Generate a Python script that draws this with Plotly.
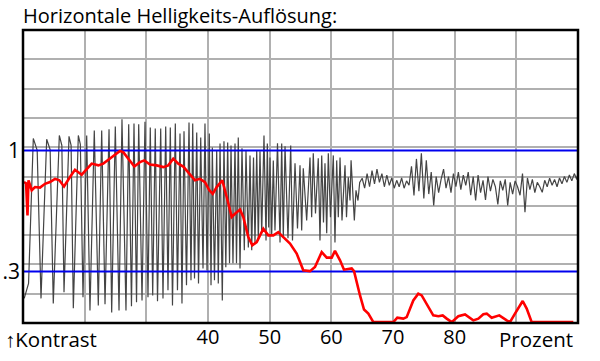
import plotly.graph_objects as go

# ---------------- data (x in percent, y in signal level 0-100) ----------------
title_text = "Horizontale Helligkeits-Auflösung:"
x_tick_vals = [40, 50, 60, 70, 80]
x_tick_text = ["40", "50", "60", "70", "80"]
y_tick_vals = [58.9, 17.6]
y_tick_text = ["1", ".3"]
ref_levels = [58.9, 17.6]

# gray measured signal: sweep region (alternating extrema)
gray_x = [10.2, 10.9, 11.67, 12.3, 12.92, 13.84, 14.4, 14.91, 15.89, 16.3, 16.65, 17.46, 17.8,
          18.16, 18.97, 19.3, 19.73, 20.33, 20.86, 21.56, 22.21, 22.76, 23.3, 23.95, 24.38,
          24.97, 25.57, 26.05, 26.7, 27.14, 27.59, 28.0, 28.41, 28.76, 29.3, 29.78, 30.27,
          30.64, 31.03, 31.45, 31.81, 32.33, 32.7, 33.14, 33.51, 33.89, 34.24, 34.7, 35.05,
          35.46, 35.78, 36.11, 36.51, 36.92, 37.24, 37.52, 37.81, 38.17, 38.46, 38.82, 39.19,
          39.51, 39.84, 40.21, 40.49, 40.7, 41.05, 41.41,
          41.67, 41.95, 42.32, 42.59, 42.89, 43.19, 43.49, 43.73, 44.05, 44.38, 44.62, 44.91,
          45.19, 45.51, 45.89, 46.16, 46.54, 46.81, 47.09, 47.38, 47.62, 47.9, 48.16, 48.43,
          48.71, 49.08, 49.41, 49.62, 49.84, 50.05, 50.33, 50.59, 50.86, 51.27, 51.68, 51.95,
          52.21, 52.49, 52.97, 53.41, 53.7, 54.11, 54.51, 54.92, 55.19, 55.45, 56.0, 56.54,
          56.81, 57.07, 57.43, 57.88, 58.16, 58.44, 58.73, 58.97, 59.25, 59.51, 59.86, 60.32,
          60.59, 60.87, 61.13, 61.41, 61.73, 62.22, 62.46, 62.75, 63.03, 63.2, 63.73, 64.0,
          64.32, 64.6]
gray_y = [8.4, 13.5, 63.0, 58.9, 8.4, 62.7, 59.2, 6.7, 64.0, 60.6, 10.5, 63.7, 60.6,
          5.0, 64.0, 61.0, 8.8, 64.0, 4.3, 65.7, 6.0, 65.7, 6.4, 66.1, 3.6,
          67.1, 4.3, 69.5, 4.3, 67.8, 5.7, 68.1, 7.1, 67.8, 7.7, 68.7, 8.8,
          66.7, 9.4, 66.4, 7.4, 66.4, 8.4, 67.1, 11.2, 66.7, 6.0, 68.1, 11.2,
          64.7, 6.7, 65.4, 12.9, 68.4, 14.6, 68.1, 15.2, 65.0, 13.5, 63.3, 18.6,
          68.1, 17.9, 64.7, 12.9, 59.9, 14.6, 58.9,
          13.5, 61.3, 7.7, 62.0, 19.0, 61.6, 20.4, 60.6, 20.4, 61.3, 20.4, 63.3,
          18.6, 59.6, 24.8, 58.9, 25.8, 57.2, 24.8, 56.5, 27.2, 58.9, 28.2, 58.6,
          30.6, 64.0, 28.2, 61.3, 32.6, 56.5, 29.9, 55.5, 31.6, 61.3, 27.5, 61.3,
          29.2, 60.3, 28.9, 60.6, 28.2, 54.5, 32.3, 53.8, 31.6, 52.8, 35.0, 56.5,
          36.1, 57.9, 37.4, 56.2, 28.2, 57.2, 34.3, 54.5, 30.6, 57.9, 36.1, 57.2,
          27.5, 55.5, 36.1, 56.5, 35.0, 53.8, 36.1, 49.7, 41.8, 55.5, 35.0, 45.3,
          41.8, 48.0]

# gray measured signal: noise region beyond resolution limit
noise_x = [65.0, 65.4, 65.8, 66.2, 66.6, 67.0, 67.4, 67.8, 68.2, 68.6, 69.0, 69.4, 69.8,
           70.2, 70.6, 71.0, 71.4, 71.8, 72.2, 72.6, 73.0, 73.4, 73.8, 74.2, 74.6, 75.0,
           75.4, 75.8, 76.2, 76.6, 77.0, 77.4, 77.8, 78.2, 78.6, 79.0, 79.4, 79.8, 80.2,
           80.6, 81.0, 81.4, 81.8, 82.2, 82.6, 83.0, 83.4, 83.8, 84.2, 84.6, 85.0, 85.4,
           85.8, 86.2, 86.6, 87.0, 87.4, 87.8, 88.2, 88.6, 89.0, 89.4, 89.8, 90.2, 90.6,
           91.0, 91.4, 91.8, 92.2, 92.6, 93.0, 93.4, 93.8, 94.2, 94.6, 95.0, 95.4, 95.8,
           96.2, 96.6, 97.0, 97.4, 97.8, 98.2, 98.6, 99.0, 99.4, 99.8, 100.0]
noise_y = [49.4, 46.0, 51.0, 46.5, 52.0, 47.5, 52.5, 48.0, 51.0, 46.5, 50.5, 47.0, 49.5,
           46.0, 48.7, 46.5, 49.5, 46.0, 48.5, 47.0, 53.5, 43.5, 56.0, 45.0, 57.9, 42.5,
           55.5, 44.0, 51.5, 40.1, 50.0, 44.5, 49.0, 52.5, 46.0, 50.0, 44.5, 51.0, 46.5,
           51.5, 45.5, 50.5, 47.0, 51.5, 43.6, 50.0, 41.8, 50.5, 44.5, 48.7, 42.0, 50.0,
           45.0, 49.0, 46.5, 40.5, 48.5, 45.3, 49.0, 40.1, 48.0, 44.0, 48.5, 46.5, 43.6,
           51.0, 37.8, 49.5, 45.5, 49.0, 44.5, 48.0, 46.5, 44.6, 48.7, 46.5, 49.4, 47.0,
           49.0, 46.5, 49.5, 47.5, 50.0, 48.0, 50.5, 48.5, 51.0, 49.0, 51.4]

# red contrast curve
red_x = [10.16, 10.5, 10.73, 10.89, 11.41, 11.95, 12.76, 13.57, 14.38, 15.19, 15.89, 16.65,
         17.62, 18.43, 19.52, 20.33, 21.14, 22.21, 23.02, 24.38, 25.73, 26.26, 27.08, 28.05,
         28.97, 29.67, 30.59, 31.68, 32.75, 33.56, 34.37, 35.18, 35.99, 36.8, 37.89, 38.7,
         39.51, 40.21, 40.76, 41.41, 42.32, 43.03, 43.84, 44.38, 45.19, 45.72, 46.54, 47.18,
         47.9, 48.97, 49.78, 50.59, 51.4, 52.21, 53.3, 54.38, 55.45, 56.54, 57.35, 58.44,
         59.25, 60.06, 60.59, 61.41, 62.05, 63.3, 63.68, 64.65, 65.3, 66.0, 66.81, 70.05,
         70.7, 71.67, 72.22, 73.29, 74.1, 74.65, 75.46, 76.53, 77.35, 78.06, 78.71, 79.52,
         80.59, 81.68, 83.02, 83.84, 84.65, 85.2, 86.0, 87.24, 88.44, 88.97, 89.78, 91.03,
         91.68, 92.49, 99.24]
red_y = [48.1, 47.7, 36.7, 48.7, 45.3, 46.4, 46.2, 47.5, 48.1, 49.2, 48.7, 46.6,
         49.8, 52.3, 50.6, 52.7, 54.4, 53.8, 54.4, 56.6, 58.7, 58.3, 56.1, 53.4,
         54.9, 55.5, 54.1, 53.8, 53.2, 53.8, 56.1, 54.4, 53.4, 51.5, 48.7, 49.2,
         48.1, 45.3, 44.1, 46.4, 48.7, 43.0, 36.2, 37.3, 38.7, 36.2, 29.3, 26.5,
         27.6, 32.2, 29.9, 29.9, 31.0, 29.3, 27.1, 23.7, 18.0, 17.7, 19.1, 24.2,
         22.3, 22.3, 24.6, 21.4, 18.2, 18.6, 17.7, 9.4, 4.6, 3.2, 0.3, 0.3,
         1.8, 1.5, 2.0, 7.7, 10.0, 9.4, 6.6, 2.6, 2.3, 2.6, 1.5, 0.3,
         2.3, 2.9, 0.9, 1.5, 3.0, 3.2, 1.8, 2.6, 0.9, 0.3, 3.2, 7.5,
         4.9, 0.3, 0.3]

grid_x = [20, 30, 40, 50, 60, 70, 80, 90]
grid_y = [10, 20, 30, 40, 50, 60, 70, 80, 90]

# ---------------- figure ----------------
FONT = "Open Sans"
GRID = "#b0b0b0"

fig = go.Figure()
fig.add_trace(go.Scatter(x=gray_x + noise_x, y=gray_y + noise_y, mode="lines",
                         line=dict(color="#444444", width=1.2), hoverinfo="skip"))
for lvl in ref_levels:
    fig.add_trace(go.Scatter(x=[10, 100], y=[lvl, lvl], mode="lines",
                             line=dict(color="#0000ee", width=2), hoverinfo="skip"))
fig.add_trace(go.Scatter(x=red_x, y=red_y, mode="lines",
                         line=dict(color="#ff0000", width=2.6), hoverinfo="skip"))

fig.update_layout(
    width=600, height=361,
    margin=dict(l=23, r=22, t=30, b=38, autoexpand=False),
    paper_bgcolor="white", plot_bgcolor="white",
    showlegend=False,
    font=dict(family=FONT, color="black", size=20),
    xaxis=dict(range=[10, 100], tickmode="array", tickvals=x_tick_vals, ticktext=x_tick_text,
               showgrid=False, zeroline=False, ticks="", tickfont=dict(size=20),
               automargin=False,
               minor=dict(tickmode="array", tickvals=grid_x, showgrid=True,
                          gridcolor=GRID, gridwidth=1.5, ticks="")),
    yaxis=dict(range=[0, 100], tickmode="array", tickvals=y_tick_vals, ticktext=y_tick_text,
               showgrid=False, zeroline=False, ticks="", tickfont=dict(size=21),
               automargin=False, ticklabelstandoff=2,
               minor=dict(tickmode="array", tickvals=grid_y, showgrid=True,
                          gridcolor=GRID, gridwidth=1.5, ticks="")),
    shapes=[dict(type="rect", xref="paper", yref="paper", x0=0, x1=1, y0=0, y1=1,
                 line=dict(color="black", width=2.5), layer="above")],
    annotations=[
        dict(text=title_text, xref="paper", yref="paper", x=-0.004, y=1.05,
             xanchor="left", yanchor="middle", showarrow=False, font=dict(size=20)),
        dict(text="↑Kontrast", xref="paper", yref="paper", x=-0.036, y=-0.055,
             xanchor="left", yanchor="middle", showarrow=False, font=dict(size=20.5)),
        dict(text="Prozent", xref="paper", yref="paper", x=0.995, y=-0.055,
             xanchor="right", yanchor="middle", showarrow=False, font=dict(size=20.5)),
    ],
)

fig.write_html("out.html", config={"displayModeBar": False},
               post_script="document.body.style.margin='0';")
